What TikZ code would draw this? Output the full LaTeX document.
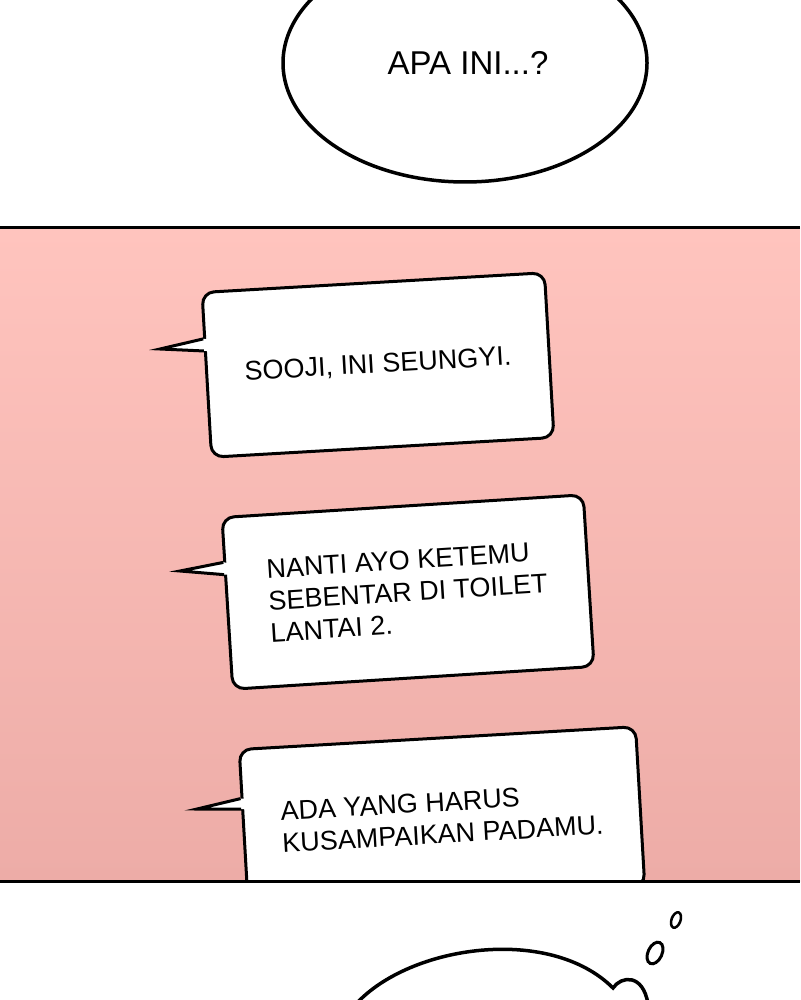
\documentclass[tikz,border=0pt]{standalone}
\usepackage{fontspec}
\setmainfont{Liberation Sans}
\usepackage{xcolor}
\usepackage{tikz}
\usetikzlibrary{shapes, calc, positioning}
\definecolor{panelTop}{HTML}{FFC4BE}
\definecolor{panelBot}{HTML}{EDACA7}

\begin{document}
\begin{tikzpicture}[x=1pt, y=-1pt]
		\tikzstyle{bubble}=[draw=black, line width=3pt, fill=white, rounded corners=12pt, inner sep=0pt, align=left, font=\fontsize{27}{32}\selectfont, text=black]
		\tikzstyle{tail}=[draw=black, line width=3pt, line join=miter]
		\tikzstyle{puff}=[ellipse, draw=black, line width=3pt, inner sep=0pt]
		
		\useasboundingbox (0,0) rectangle (800,1000);
		\clip (0,0) rectangle (800,1000);
		
		\node (q) at (465,63) [ellipse, draw=black, line width=3.5pt, fill=white, minimum width=364pt, minimum height=238pt, font=\fontsize{33}{36}\selectfont] {\hspace{6pt}APA INI...?};
		
		\shade [top color=panelTop, bottom color=panelBot] (0,228) rectangle (800,881);
		
		\begin{scope}
		\clip (0,228) rectangle (800,881);
		\node (b1) at (378,365) [bubble, minimum width=343pt, minimum height=165pt, rotate=3.3] {SOOJI, INI SEUNGYI.};
		\node (b2) at (408,592) [bubble, minimum width=362pt, minimum height=172pt, rotate=3.6] {NANTI AYO KETEMU\\SEBENTAR DI TOILET\\LANTAI 2.};
		\node (b3) at (442,818) [bubble, minimum width=397pt, minimum height=160pt, rotate=3.3] {ADA YANG HARUS\\KUSAMPAIKAN PADAMU.};
		
		\coordinate (t1) at (160,349);
		\coordinate (a1) at ($(b1.north west)!0.285!(b1.south west)$);
		\coordinate (c1) at ($(b1.north west)!0.357!(b1.south west)$);
		\fill [white] ($(a1)!5pt!(b1.east)$) -- (a1) -- (t1) -- (c1) -- ($(c1)!5pt!(b1.east)$) -- cycle;
		\draw [tail] (a1) -- (t1) -- (c1);
		
		\coordinate (t2) at (180,571);
		\coordinate (a2) at ($(b2.north west)!0.265!(b2.south west)$);
		\coordinate (c2) at ($(b2.north west)!0.335!(b2.south west)$);
		\fill [white] ($(a2)!5pt!(b2.east)$) -- (a2) -- (t2) -- (c2) -- ($(c2)!5pt!(b2.east)$) -- cycle;
		\draw [tail] (a2) -- (t2) -- (c2);
		
		\coordinate (t3) at (197,809);
		\coordinate (a3) at ($(b3.north west)!0.31!(b3.south west)$);
		\coordinate (c3) at ($(b3.north west)!0.375!(b3.south west)$);
		\fill [white] ($(a3)!5pt!(b3.east)$) -- (a3) -- (t3) -- (c3) -- ($(c3)!5pt!(b3.east)$) -- cycle;
		\draw [tail] (a3) -- (t3) -- (c3);
		\end{scope}
		
		\draw [line width=3pt] (0,228) -- (800,228);
		\draw [line width=3pt] (0,881) -- (800,881);
		
		\draw [line width=3.5pt, fill=white] (356,1004) .. controls (410,945) and (550,925) .. (613,988) .. controls (621,976) and (643,973) .. (648,1004);
		\node (p1) at (655,953) [puff, minimum width=14pt, minimum height=23pt, rotate=-25] {};
		\node (p2) at (676,920) [puff, line width=2.5pt, minimum width=9pt, minimum height=16pt, rotate=-20] {};
\end{tikzpicture}
\end{document}
